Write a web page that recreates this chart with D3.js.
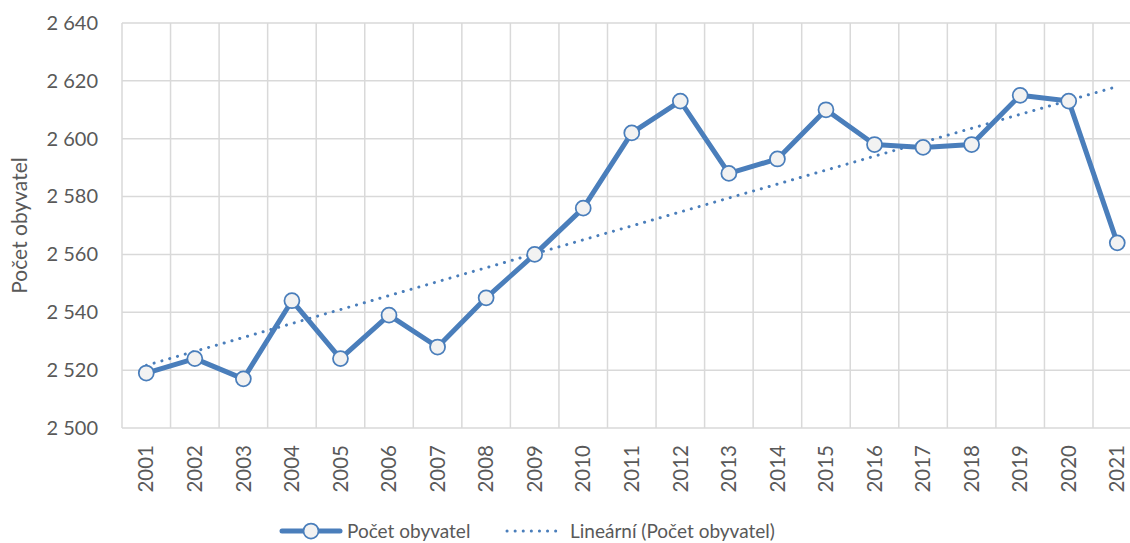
<!DOCTYPE html>
<html>
<head>
<meta charset="utf-8">
<script src="https://cdn.jsdelivr.net/npm/d3@7"></script>
<style>
  body { margin: 0; background: #fff; }
  svg { display: block; font-family: Lato, "Open Sans", sans-serif; }
</style>
</head>
<body>
<svg id="chart" width="1130" height="543"></svg>
<script>
var years = ["2001", "2002", "2003", "2004", "2005", "2006", "2007", "2008", "2009", "2010",
             "2011", "2012", "2013", "2014", "2015", "2016", "2017", "2018", "2019", "2020", "2021"];
var population = [2519, 2524, 2517, 2544, 2524, 2539, 2528, 2545, 2560, 2576,
                  2602, 2613, 2588, 2593, 2610, 2598, 2597, 2598, 2615, 2613, 2564];
var yTicks = [2500, 2520, 2540, 2560, 2580, 2600, 2620, 2640];
var seriesName = "Počet obyvatel";
var trendName = "Lineární (Počet obyvatel)";

var blue = "#4a7ebb";
var textColor = "#595959";
var gridColor = "#d9d9d9";

var svg = d3.select("#chart");
var plotLeft = 122, plotTop = 23, plotBottom = 428;
var bandW = 48.55;
var plotRight = plotLeft + bandW * years.length;

var x = d3.scaleBand().domain(years).range([plotLeft, plotRight]).padding(0);
var y = d3.scaleLinear().domain([2500, 2640]).range([plotBottom, plotTop]);

// grid
svg.append("g").selectAll("line")
    .data(yTicks)
    .join("line")
    .attr("x1", plotLeft).attr("x2", plotRight)
    .attr("y1", function(d){ return y(d); })
    .attr("y2", function(d){ return y(d); })
    .attr("stroke", gridColor)
    .attr("stroke-width", 1.5);

svg.append("g").selectAll("line")
    .data(years.concat(["end"]))
    .join("line")
    .attr("x1", function(d, i){ return plotLeft + i * bandW; })
    .attr("x2", function(d, i){ return plotLeft + i * bandW; })
    .attr("y1", plotTop).attr("y2", plotBottom)
    .attr("stroke", gridColor)
    .attr("stroke-width", 1.5);

// y axis labels
var yAxis = svg.append("g")
    .attr("transform", "translate(" + plotLeft + ",0)")
    .call(d3.axisLeft(y).tickValues(yTicks).tickSize(0).tickPadding(24)
        .tickFormat(function(d){ return d3.format(",")(d).replace(",", " "); }));
yAxis.select(".domain").remove();
yAxis.selectAll("text")
    .attr("fill", textColor)
    .attr("font-size", "20px")
    .attr("font-family", "Lato, 'Open Sans', sans-serif");

// x axis labels
var xAxis = svg.append("g")
    .attr("transform", "translate(0," + plotBottom + ")")
    .call(d3.axisBottom(x).tickSize(0));
xAxis.select(".domain").remove();
xAxis.selectAll("text")
    .attr("fill", textColor)
    .attr("font-size", "20.5px")
    .attr("font-family", "Lato, 'Open Sans', sans-serif")
    .attr("transform", "rotate(-90)")
    .attr("text-anchor", "end")
    .attr("x", -17)
    .attr("y", 0)
    .attr("dy", "0.35em");

// y axis title
svg.append("text")
    .attr("transform", "translate(27," + ((plotTop + plotBottom) / 2) + ") rotate(-90)")
    .attr("text-anchor", "middle")
    .attr("fill", textColor)
    .attr("font-size", "21px")
    .text(seriesName);

// linear trend (least squares, as Excel does)
var n = population.length;
var mx = d3.mean(d3.range(n)), my = d3.mean(population);
var sxy = d3.sum(population, function(v, i){ return (i - mx) * (v - my); });
var sxx = d3.sum(d3.range(n), function(i){ return (i - mx) * (i - mx); });
var slope = sxy / sxx, intercept = my - slope * mx;

var cx = function(i){ return x(years[i]) + x.bandwidth() / 2; };

svg.append("line")
    .attr("x1", cx(0)).attr("y1", y(intercept))
    .attr("x2", cx(n - 1)).attr("y2", y(intercept + slope * (n - 1)))
    .attr("stroke", blue)
    .attr("stroke-width", 3)
    .attr("stroke-linecap", "round")
    .attr("stroke-dasharray", "0.1 8");

// data line
var line = d3.line()
    .x(function(d, i){ return cx(i); })
    .y(function(d){ return y(d); });

svg.append("path")
    .datum(population)
    .attr("d", line)
    .attr("fill", "none")
    .attr("stroke", blue)
    .attr("stroke-width", 5)
    .attr("stroke-linejoin", "round");

svg.append("g").selectAll("circle")
    .data(population)
    .join("circle")
    .attr("cx", function(d, i){ return cx(i); })
    .attr("cy", function(d){ return y(d); })
    .attr("r", 7.5)
    .attr("fill", "#f2f2f2")
    .attr("stroke", blue)
    .attr("stroke-width", 1.75);

// legend
var lg = svg.append("g").attr("transform", "translate(0,531)");
lg.append("line")
    .attr("x1", 282).attr("x2", 340).attr("y1", 0).attr("y2", 0)
    .attr("stroke", blue).attr("stroke-width", 5).attr("stroke-linecap", "round");
lg.append("circle")
    .attr("cx", 311).attr("cy", 0).attr("r", 7.5)
    .attr("fill", "#f2f2f2").attr("stroke", blue).attr("stroke-width", 1.75);
lg.append("text")
    .attr("x", 347).attr("y", 0).attr("dy", "0.35em")
    .attr("fill", textColor).attr("font-size", "19px")
    .text(seriesName);
lg.append("line")
    .attr("x1", 507).attr("x2", 563).attr("y1", 0).attr("y2", 0)
    .attr("stroke", blue).attr("stroke-width", 3)
    .attr("stroke-linecap", "round").attr("stroke-dasharray", "0.1 8");
lg.append("text")
    .attr("x", 570).attr("y", 0).attr("dy", "0.35em")
    .attr("fill", textColor).attr("font-size", "19px")
    .text(trendName);
</script>
</body>
</html>
